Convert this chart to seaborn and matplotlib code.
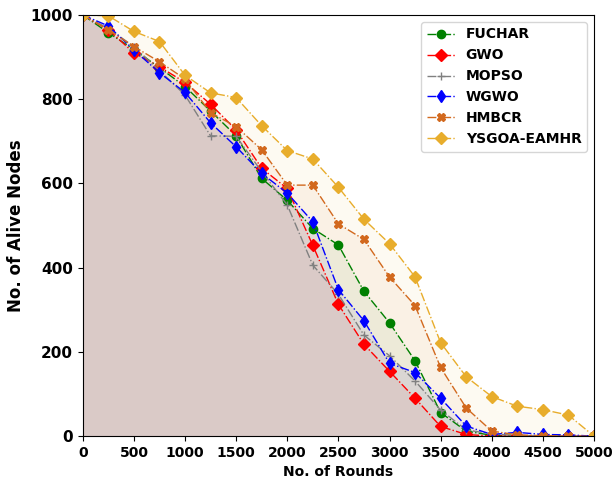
import numpy as np
import pandas as pd
import matplotlib
matplotlib.use("Agg")
import matplotlib.pyplot as plt
import seaborn as sns

# rounds and alive nodes per protocol
rounds = [0, 250, 500, 750, 1000, 1250, 1500, 1750, 2000, 2250, 2500,
          2750, 3000, 3250, 3500, 3750, 4000, 4250, 4500, 4750, 5000]
fuchar = [1000, 958, 918, 875, 830, 772, 713, 612, 560, 493, 454,
          344, 269, 179, 56, 12, 2, 0, 0, 0, 0]
gwo = [1000, 965, 910, 877, 840, 788, 727, 636, 588, 453, 313,
       218, 154, 90, 23, 4, 0, 0, 0, 0, 0]
mopso = [1000, 968, 925, 868, 810, 713, 712, 628, 549, 406, 337,
         240, 191, 131, 62, 15, 5, 2, 0, 0, 0]
wgwo = [1000, 974, 917, 863, 816, 744, 687, 624, 577, 509, 348,
        274, 173, 151, 90, 24, 4, 9, 4, 3, 0]
hmbcr = [1000, 965, 925, 889, 848, 768, 735, 680, 596, 596, 504,
         467, 378, 310, 163, 67, 12, 3, 1, 0, 0]
ysgoa = [1000, 998, 961, 937, 857, 815, 804, 737, 678, 658, 591,
         515, 457, 378, 222, 141, 94, 71, 63, 50, 0]

names = ["FUCHAR", "GWO", "MOPSO", "WGWO", "HMBCR", "YSGOA-EAMHR"]
series = [fuchar, gwo, mopso, wgwo, hmbcr, ysgoa]
colors = ["green", "red", "gray", "blue", "#d2691e", "#e8ad2c"]
markers = ["o", "D", "+", "d", "X", "D"]
sizes = [6, 6.5, 6, 6.5, 5.5, 6.5]

sns.set_style("ticks", {"axes.edgecolor": "black", "text.color": "black",
                        "axes.labelcolor": "black", "xtick.color": "black",
                        "ytick.color": "black"})
plt.rcParams["font.family"] = ["DejaVu Sans"]

fig = plt.figure(figsize=(6.13, 4.83), dpi=100)
ax = fig.add_axes([0.135, 0.097, 0.834, 0.872])

for name, vals, c, m, s in zip(names, series, colors, markers, sizes):
    df = pd.DataFrame({"rounds": rounds, "alive": vals})
    ax.fill_between(df["rounds"], df["alive"], 0, color=c, alpha=0.06, lw=0)
    sns.lineplot(data=df, x="rounds", y="alive", ax=ax, color=c, marker=m,
                 markersize=s, linestyle="-.", linewidth=1, label=name,
                 markeredgecolor=c, markeredgewidth=1)

ax.set_xlim(0, 5000)
ax.set_ylim(0, 1000)
ax.set_xticks(np.arange(0, 5001, 500))
ax.set_yticks(np.arange(0, 1001, 200))
for lab in ax.get_xticklabels() + ax.get_yticklabels():
    lab.set_fontweight("bold")
ax.tick_params(axis="x", labelsize=10)
ax.tick_params(axis="y", labelsize=11)
ax.set_xlabel("No. of Rounds", fontsize=10, fontweight="bold")
ax.set_ylabel("No. of Alive Nodes", fontsize=12, fontweight="bold")

leg = ax.legend(loc="upper right", prop={"weight": "bold", "size": 10},
                frameon=True)

fig.savefig("out.png", dpi=100)
